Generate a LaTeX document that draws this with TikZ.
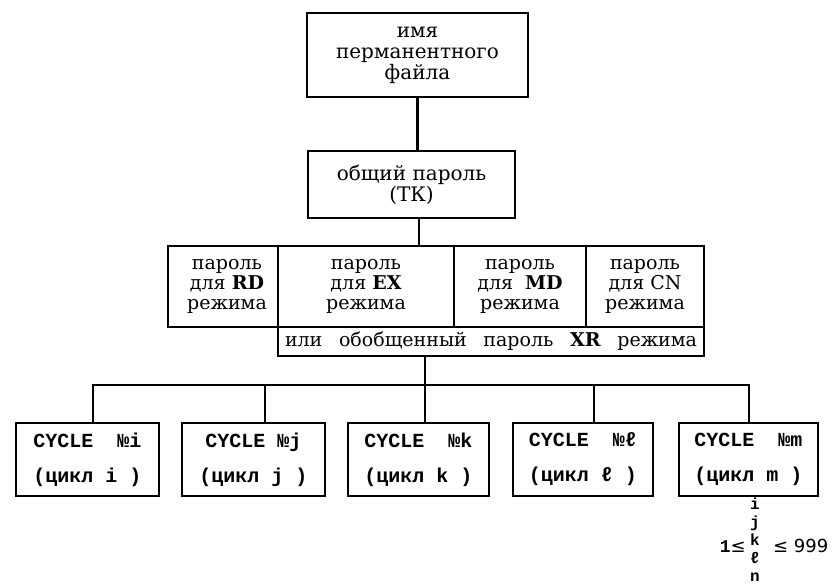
\documentclass[tikz,border=0pt]{standalone}
\usepackage{fontspec}
\setmainfont{DejaVu Serif}
\newfontfamily\monof{Liberation Mono}
\newfontfamily\dvs{DejaVu Sans}
\begin{document}
\begin{tikzpicture}[x=1pt,y=-1pt,
  box/.style={draw, line width=2.4pt, rectangle, inner sep=0pt, align=center},
  big/.style={font=\fontsize{20}{21}\selectfont},
  cell/.style={box, minimum height=81pt, font=\fontsize{19}{20}\selectfont},
  cyc/.style={box, minimum height=73pt, font=\monof\bfseries\fontsize{20}{35}\selectfont},
  conn/.style={line width=2.4pt, line join=miter}]
\useasboundingbox (0,0) rectangle (836,587);
\fill[white] (0,0) rectangle (836,587);

\node[box, big, minimum width=221pt, minimum height=84pt] (file) at (417.5,55) {имя\\перманентного\\файла};
\node[box, big, minimum width=207pt, minimum height=67pt] (tk) at (411.5,184.5) {общий пароль\\(ТК)};

\node[cell, minimum width=110pt] (cA) at (223,286.5) {\hspace*{8pt}пароль\\\hspace*{8pt}для \textbf{RD}\\\hspace*{8pt}режима};
\node[cell, minimum width=176pt] (cB) at (366,286.5) {пароль\\для \textbf{EX}\\режима};
\node[cell, minimum width=132pt] (cC) at (520,286.5) {пароль\\для\ \ \textbf{MD}\\режима};
\node[cell, minimum width=118pt] (cD) at (645,286.5) {пароль\\для CN\\режима};
\node[box, minimum width=426pt, minimum height=29pt, font=\fontsize{19}{20}\selectfont] (strip) at (491,341.5)
  {\makebox[412pt][s]{или обобщенный пароль \textbf{XR} режима}};

\node[cyc, minimum width=143pt] (c1) at (87.5,459.5) {CYCLE ~№i\\(цикл i )};
\node[cyc, minimum width=143pt] (c2) at (253.5,459.5) {CYCLE №j\\(цикл j )};
\node[cyc, minimum width=141pt] (c3) at (418.5,459.5) {CYCLE ~№k\\(цикл k )};
\node[cyc, minimum width=140pt] (c4) at (583,459.5) {CYCLE ~№ℓ\\(цикл ℓ )};
\node[cyc, minimum width=139pt] (c5) at (748.5,459.5) {CYCLE ~№m\\(цикл m )};

\coordinate (hub) at (425,385);

\draw[conn] (file.south) -- (file.south |- tk.north);
\draw[conn] ([xshift=7.5pt]tk.south) -- ([xshift=53pt]cB.north);
\draw[conn] ([xshift=-66pt]strip.south) -- (hub);
\draw[conn] ([xshift=5.5pt]c1.north) |- (hub);
\draw[conn] ([xshift=11.5pt]c2.north) |- (hub);
\draw[conn] ([xshift=6.5pt]c3.north) -- (hub);
\draw[conn] ([xshift=11pt]c4.north) |- (hub);
\draw[conn] ([xshift=0.5pt]c5.north) |- (hub);

\node[font=\monof\bfseries\fontsize{16}{18}\selectfont, align=center, inner sep=0pt] (stack) at (755,540) {i\\j\\k\\ℓ\\n};
\node[anchor=base east, inner sep=0pt, font=\dvs\fontsize{18}{20}\selectfont] (lo) at (746,552) {{\monof\bfseries 1}≤};
\node[anchor=base west, inner sep=0pt, font=\dvs\fontsize{18}{20}\selectfont] (hi) at (773,552) {≤ 999};
\end{tikzpicture}
\end{document}
